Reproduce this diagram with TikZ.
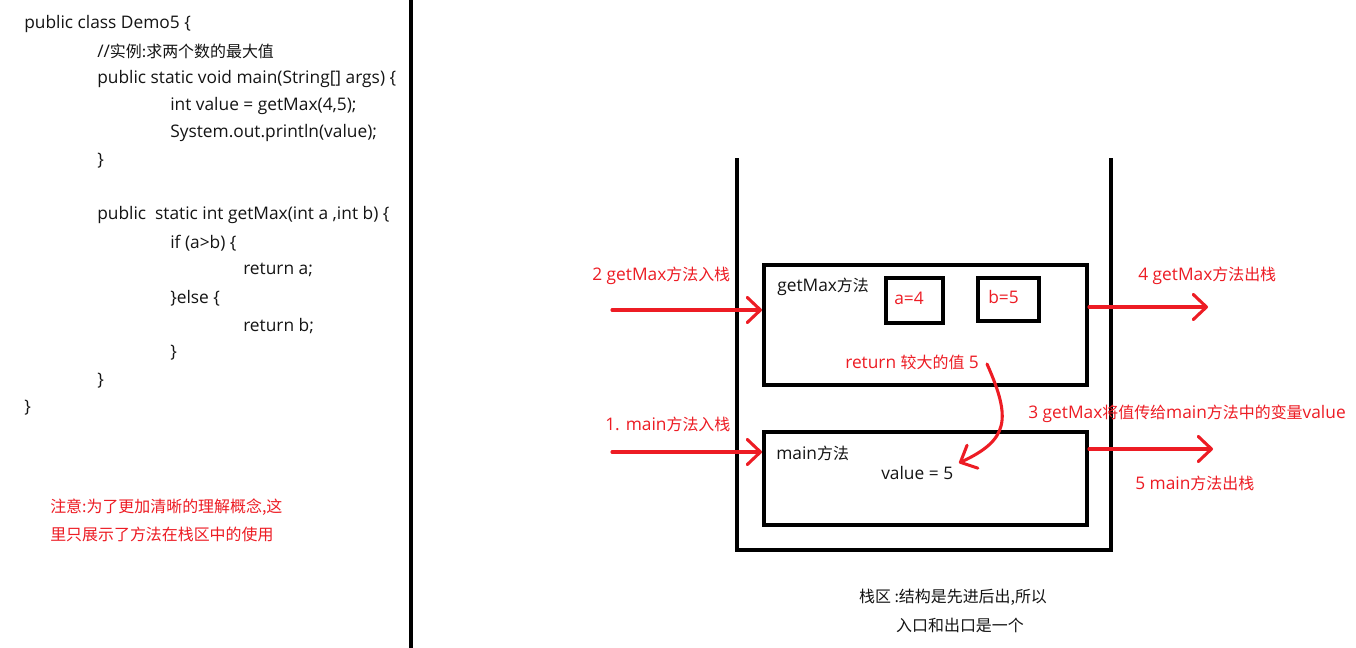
\documentclass[tikz,border=0pt]{standalone}
\usepackage{fontspec}
\setmainfont{Open Sans}
\newfontfamily\cjk{Noto Sans CJK SC}[Scale=0.92]
\usetikzlibrary{arrows.meta}
\definecolor{rd}{RGB}{237,28,36}
\definecolor{ink}{RGB}{20,20,20}
\begin{document}
\begin{tikzpicture}[x=0.75pt,y=-0.75pt,
  txt/.style={inner sep=0pt,anchor=west,text=ink,font=\fontsize{13pt}{15pt}\selectfont},
  rtxt/.style={txt,text=rd},
  ctxt/.style={inner sep=0pt,anchor=center,text=ink,font=\fontsize{13pt}{15pt}\selectfont},
  frame/.style={draw=black,line width=3pt,inner sep=0pt},
  wall/.style={draw=black,line width=3pt},
  redarrow/.style={draw=rd,line width=2.3pt,line cap=round,
    -{Straight Barb[length=10pt,width=19pt,line width=2.3pt,round]}}
]
\useasboundingbox (0,0) rectangle (1356,648);
\fill[white] (0,0) rectangle (1356,648);

% divider
\coordinate (dtop) at (411,0);
\coordinate (dbot) at (411,648);
\draw[wall] (dtop) -- (dbot);

% code
\node[txt] (c1)  at (24,24)  {public class Demo5 \{};
\node[txt] (c2)  at (97,51)  {//{\cjk 实例:求两个数的最大值}};
\node[txt] (c3)  at (97,79)  {public static void main(String[] args) \{};
\node[txt] (c4)  at (170,106) {int value = getMax(4,5);};
\node[txt] (c5)  at (170,133) {System.out.println(value);};
\node[txt] (c6)  at (97,161) {\}};
\node[txt] (c7)  at (97,215) {public~~static int getMax(int a ,int b) \{};
\node[txt] (c8)  at (170,243) {if (a>b) \{};
\node[txt] (c9)  at (243,270) {return a;};
\node[txt] (c10) at (170,298) {\}else \{};
\node[txt] (c11) at (243,326) {return b;};
\node[txt] (c12) at (170,353) {\}};
\node[txt] (c13) at (97,381) {\}};
\node[txt] (c14) at (24,408) {\}};

% note
\node[rtxt] (n1) at (50,507) {\cjk 注意:为了更加清晰的理解概念,这};
\node[rtxt] (n2) at (50,534) {\cjk 里只展示了方法在栈区中的使用};

% stack container
\coordinate (sl) at (737,160);
\coordinate (slb) at (737,550);
\coordinate (srb) at (1111,550);
\coordinate (sr) at (1111,160);
\draw[wall,line cap=rect] (sl) -- (slb) -- (srb) -- (sr);

% boxes
\node[frame,minimum width=323*0.75pt,minimum height=120*0.75pt] (gm) at (925.5,325) {};
\node[frame,minimum width=57*0.75pt,minimum height=45*0.75pt] (ba) at (914.5,300.5) {};
\node[frame,minimum width=61*0.75pt,minimum height=43*0.75pt] (bb) at (1008.5,299.5) {};
\node[frame,minimum width=323*0.75pt,minimum height=93*0.75pt] (mn) at (925.5,478.5) {};

\node[txt] (gmt) at (777,287) {getMax{\cjk 方法}};
\node[rtxt] (at) at (894,298) {a=4};
\node[rtxt] (bt) at (988,297) {b=5};
\node[rtxt] (ret) at (845,362) {return {\cjk 较大的值} 5};
\node[txt] (mnt) at (776,453) {main{\cjk 方法}};
\node[txt] (val) at (881,473) {value = 5};

% labels
\node[rtxt] (l2) at (592,276) {2 getMax{\cjk 方法入栈}};
\node[rtxt] (l1) at (605,424) {1. main{\cjk 方法入栈}};
\node[rtxt] (l4) at (1138,276) {4 getMax{\cjk 方法出栈}};
\node[rtxt] (l3) at (1028,414) {3 getMax{\cjk 将值传给}main{\cjk 方法中的变量}value};
\node[rtxt] (l5) at (1135,483) {5 main{\cjk 方法出栈}};

% arrows
\coordinate (a2s) at (612,310);
\draw[redarrow] (a2s) -- (a2s -| gm.west);
\coordinate (a1s) at (612,452);
\draw[redarrow] (a1s) -- (a1s -| mn.west);
\coordinate (a4e) at (1208,307);
\draw[redarrow] (a4e -| gm.east) -- (a4e);
\coordinate (a5e) at (1213,449);
\draw[redarrow] (a5e -| mn.east) -- (a5e);
\coordinate (cs) at (987,364);
\coordinate (ce) at (959,463);
\draw[redarrow] (cs) .. controls (1012,420) and (1008,440) .. (ce);

% caption
\node[ctxt] (cap1) at (953,597) {{\cjk 栈区 :结构是先进后出,所以}};
\node[ctxt] (cap2) at (960,625) {{\cjk 入口和出口是一个}};
\end{tikzpicture}
\end{document}
